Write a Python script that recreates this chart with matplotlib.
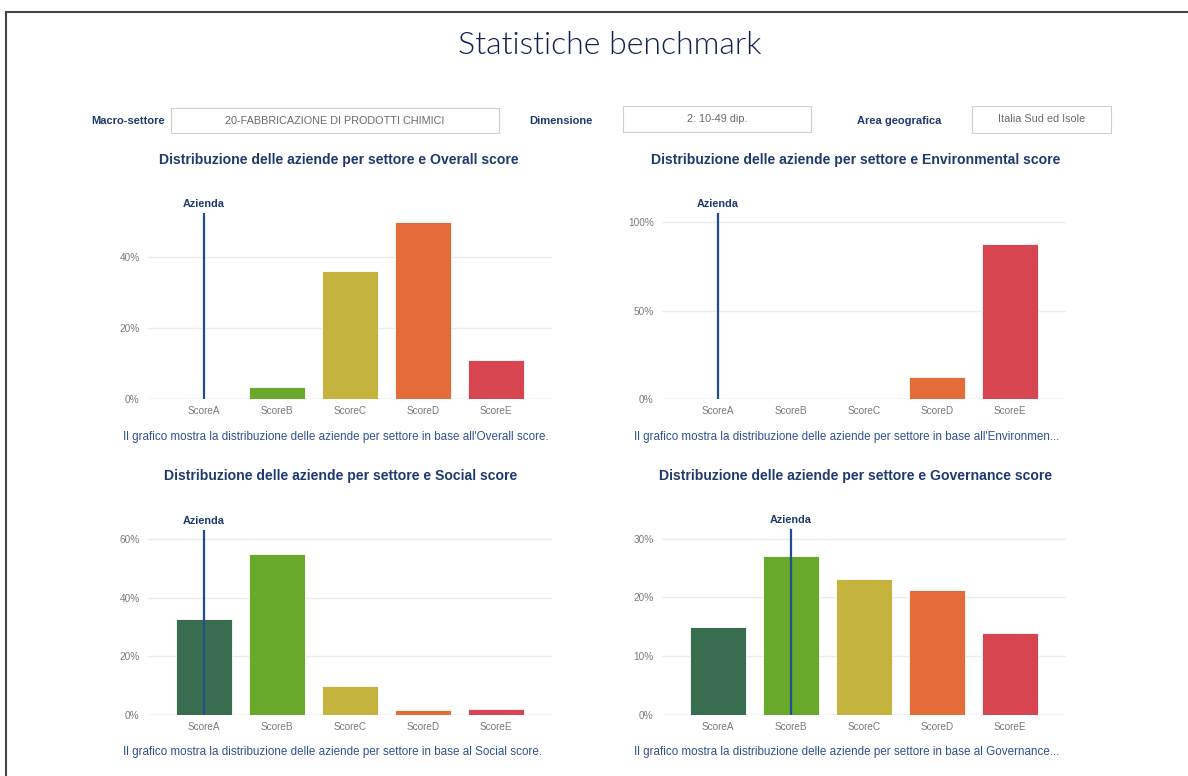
import matplotlib.pyplot as plt
from matplotlib.patches import Rectangle
from matplotlib.lines import Line2D
from matplotlib.ticker import MultipleLocator, PercentFormatter

# dati (percentuali)
categorie = ["ScoreA", "ScoreB", "ScoreC", "ScoreD", "ScoreE"]
overall = [0, 3.2, 36.1, 50.0, 10.9]
environmental = [0, 0, 0.6, 12.3, 87.9]
social = [32.6, 54.8, 10.0, 1.6, 1.9]
governance = [14.9, 27.1, 23.1, 21.3, 14.0]
azienda = ["ScoreA", "ScoreA", "ScoreA", "ScoreB"]

titoli = [
    "Distribuzione delle aziende per settore e Overall score",
    "Distribuzione delle aziende per settore e Environmental score",
    "Distribuzione delle aziende per settore e Social score",
    "Distribuzione delle aziende per settore e Governance score",
]
didascalie = [
    "Il grafico mostra la distribuzione delle aziende per settore in base all'Overall score.",
    "Il grafico mostra la distribuzione delle aziende per settore in base all'Environmen...",
    "Il grafico mostra la distribuzione delle aziende per settore in base al Social score.",
    "Il grafico mostra la distribuzione delle aziende per settore in base al Governance...",
]
filtri = [
    ("Macro-settore", "20-FABBRICAZIONE DI PRODOTTI CHIMICI"),
    ("Dimensione", "2: 10-49 dip."),
    ("Area geografica", "Italia Sud ed Isole"),
]

colori = ["#386e4f", "#68a82b", "#c4b43e", "#e46c38", "#d74551"]
NAVY = "#1f3a6e"
W, H = 1188, 776

plt.rcParams["font.family"] = ["Liberation Sans", "DejaVu Sans"]
fig = plt.figure(figsize=(W / 100, H / 100), dpi=100)


def fx(x):
    return x / W


def fy(y):
    return 1 - y / H


# cornice
fig.add_artist(Line2D([fx(6), 1], [fy(12), fy(12)], color="#444444", lw=1.5))
fig.add_artist(Line2D([fx(6), fx(6)], [fy(12), 0], color="#444444", lw=1.5))

fig.text(fx(610), fy(45), "Statistiche benchmark", ha="center", va="center",
         fontsize=23, color="#0f2250", family=["Lato", "DejaVu Sans"], fontweight=300)

# filtri in alto
etichette_x = [165, 593, 941]
riquadri = [(171, 108, 499, 133), (623, 106, 811, 132), (972, 106, 1111, 133)]
for (lab, val), lx, (x0, y0, x1, y1) in zip(filtri, etichette_x, riquadri):
    fig.text(fx(lx), fy(121), lab, ha="right", va="center", fontsize=8.0,
             fontweight="bold", color=NAVY)
    fig.add_artist(Rectangle((fx(x0), fy(y1)), fx(x1 - x0), (y1 - y0) / H,
                             facecolor="white", edgecolor="#cfcfcf", lw=0.8))
    fig.text(fx((x0 + x1) / 2), fy((y0 + y1) / 2), val, ha="center", va="center",
             fontsize=7.8, color="#6b6b6b")

serie = [overall, environmental, social, governance]
ytop = [52.4, 105.3, 63.0, 31.6]
passo = [20, 50, 20, 10]
# posizioni pannelli (pixel): x0, y_top, x1, y_bottom
pannelli = [(148, 213, 552, 398.7), (662, 213, 1066, 398.7),
            (148, 530, 552, 715), (662, 529.3, 1066, 715)]
centri_titolo = [339, 855.5, 340.5, 855.5]
y_titolo = [160, 160, 476, 476]
x_didascalia = [123, 634, 123, 634]
y_didascalia = [437, 437, 752, 752]

for i, vals in enumerate(serie):
    x0, yt, x1, yb = pannelli[i]
    ax = fig.add_axes([fx(x0), fy(yb), fx(x1 - x0), (yb - yt) / H])
    ax.bar(categorie, vals, width=0.77, color=colori, edgecolor="white",
           linewidth=0.6, zorder=2)
    ax.set_xlim(-0.77, 4.77)
    ax.set_ylim(0, ytop[i])
    ax.yaxis.set_major_locator(MultipleLocator(passo[i]))
    ax.yaxis.set_major_formatter(PercentFormatter(xmax=100, decimals=0))
    ax.grid(axis="y", color="#ebebeb", lw=1, zorder=0)
    ax.axhline(0, color="#dddddd", lw=1, zorder=1)
    for s in ax.spines.values():
        s.set_visible(False)
    ax.tick_params(axis="both", length=0, labelsize=7.2, labelcolor="#7a7a7a")
    ax.tick_params(axis="y", pad=6)
    ax.tick_params(axis="x", pad=5)

    pos = categorie.index(azienda[i])
    ax.axvline(pos, color="#1f4e8c", lw=1.6, zorder=3)
    ax.annotate("Azienda", xy=(pos, 1), xycoords=ax.get_xaxis_transform(),
                xytext=(0, 3), textcoords="offset points", ha="center", va="bottom",
                fontsize=7.8, fontweight="bold", color=NAVY)

    fig.text(fx(centri_titolo[i]), fy(y_titolo[i]), titoli[i], ha="center", va="center",
             fontsize=10.05, fontweight="bold", color=NAVY)
    fig.text(fx(x_didascalia[i]), fy(y_didascalia[i]), didascalie[i], ha="left",
             va="center", fontsize=8.4, color="#2f5291")

fig.savefig("out.png", dpi=100, facecolor="white")
